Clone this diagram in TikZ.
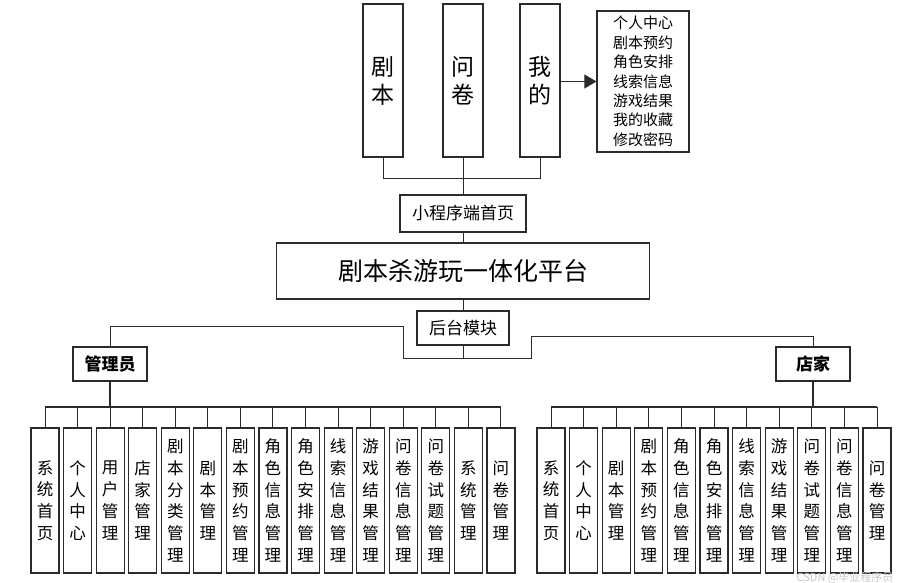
\documentclass[tikz,border=0pt]{standalone}
\usepackage{fontspec}
\newfontfamily\cjk{Noto Sans CJK SC}
\usetikzlibrary{arrows.meta}
\definecolor{ln}{HTML}{2B2B2B}
\tikzset{
  box/.style={draw=ln, line width=1.2pt, inner sep=0pt, align=center, text=black},
  vbox/.style={box, minimum width=28pt, minimum height=145pt, font=\cjk\fontsize{16.5}{21.7}\selectfont},
  topbox/.style={box, minimum width=40pt, minimum height=153pt, font=\cjk\fontsize{23}{28}\selectfont},
  role/.style={box, minimum width=74pt, minimum height=34pt, font=\cjk\bfseries\fontsize{17}{20}\selectfont},
  conn/.style={draw=ln, line width=1pt},
  trunk/.style={draw=ln, line width=1.8pt},
}
\begin{document}
\begin{tikzpicture}[x=1pt,y=-1pt]
\useasboundingbox (0,0) rectangle (912,583);

% top level
\node[topbox] (jb) at (383,80.5) {剧\\本};
\node[topbox] (wj) at (463,80.5) {问\\卷};
\node[topbox] (wd) at (540,80.5) {我\\的};
\node[box, minimum width=92pt, minimum height=141pt, align=left,
      font=\cjk\fontsize{15}{19.4}\selectfont] (lst) at (643,81.5)
  {个人中心\\剧本预约\\角色安排\\线索信息\\游戏结果\\我的收藏\\修改密码};
\draw[conn, -{Triangle[length=12pt,width=14pt]}] (wd.east |- lst.west) -- (lst.west);

\node[box, minimum width=126pt, minimum height=37pt, font=\cjk\fontsize{17}{20}\selectfont] (home) at (463,213.5) {小程序端首页};
\node[box, minimum width=373pt, minimum height=56pt, font=\cjk\fontsize{25}{28}\selectfont] (plat) at (463,271) {剧本杀游玩一体化平台};
\node[box, minimum width=92pt, minimum height=34pt, font=\cjk\fontsize{17}{20}\selectfont] (bk) at (463,328) {后台模块};

\coordinate (tb) at (463,178);
\draw[conn] (jb.south) -- (jb.south |- tb) -- (wd.south |- tb) -- (wd.south);
\draw[conn] (wj.south) -- (home.north);
\draw[conn] (home.south) -- (plat.north);
\draw[conn] (plat.south) -- (bk.north);

% roles
\node[role] (adm) at (110,364) {管理员};
\node[role] (st) at (813,364) {店家};
\coordinate (bj) at (463,358);
\coordinate (La) at (403,326);
\coordinate (Ra) at (531,336);
\draw[conn] (bk.south) -- (bj);
\draw[conn] (adm.north) |- (La) -- (La |- bj) -- (Ra |- bj) -- (Ra) -| (st.north);

% admin children
\coordinate (ab) at (110,407);
\foreach \t [count=\i] in {系\\统\\首\\页, 个\\人\\中\\心, 用\\户\\管\\理, 店\\家\\管\\理,
  剧\\本\\分\\类\\管\\理, 剧\\本\\管\\理, 剧\\本\\预\\约\\管\\理, 角\\色\\信\\息\\管\\理,
  角\\色\\安\\排\\管\\理, 线\\索\\信\\息\\管\\理, 游\\戏\\结\\果\\管\\理, 问\\卷\\信\\息\\管\\理,
  问\\卷\\试\\题\\管\\理, 系\\统\\管\\理, 问\\卷\\管\\理}{
  \node[vbox] (a\i) at ({45+32.57*(\i-1)},500.5) {\t};
  \draw[conn] (a\i.north) -- (a\i.north |- ab);
}
\draw[trunk] (adm.south) -- (ab);
\draw[trunk] (a1.north |- ab) -- (a15.north |- ab);

% store children
\coordinate (sb) at (813,407);
\foreach \t [count=\i] in {系\\统\\首\\页, 个\\人\\中\\心, 剧\\本\\管\\理, 剧\\本\\预\\约\\管\\理,
  角\\色\\信\\息\\管\\理, 角\\色\\安\\排\\管\\理, 线\\索\\信\\息\\管\\理, 游\\戏\\结\\果\\管\\理,
  问\\卷\\试\\题\\管\\理, 问\\卷\\信\\息\\管\\理, 问\\卷\\管\\理}{
  \node[vbox] (s\i) at ({551+32.6*(\i-1)},500.5) {\t};
  \draw[conn] (s\i.north) -- (s\i.north |- sb);
}
\draw[trunk] (st.south) -- (sb);
\draw[conn, line width=1.4pt] (s1.north |- sb) -- (s11.north |- sb);

% watermark
\node[text=black!22, font=\cjk\fontsize{11}{13}\selectfont, inner sep=0pt] (wm) at (845,577.5) {CSDN @毕业程序员};
\end{tikzpicture}
\end{document}
